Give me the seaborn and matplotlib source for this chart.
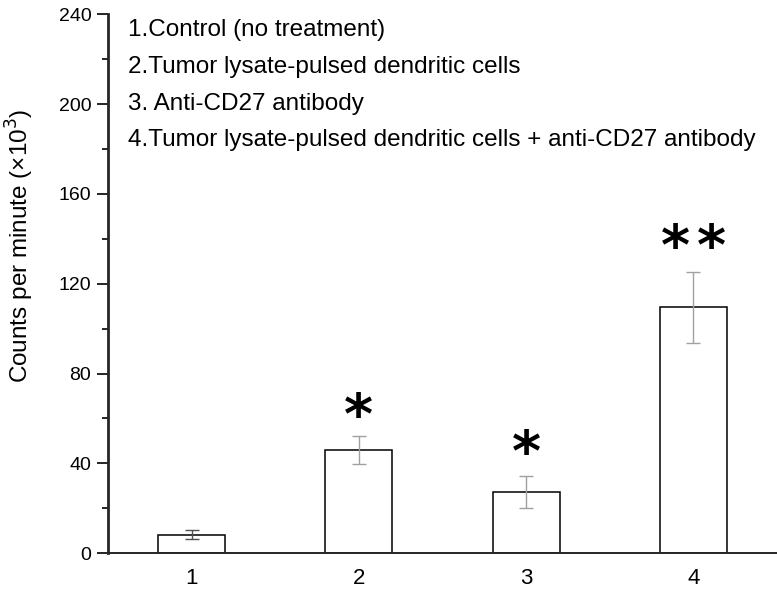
import numpy as np
import pandas as pd
import matplotlib
matplotlib.use("Agg")
import matplotlib.pyplot as plt
import seaborn as sns
from matplotlib.ticker import MultipleLocator

groups = ["1", "2", "3", "4"]
counts = [8.3, 45.9, 27.3, 109.4]
errors = [1.8, 6.4, 7.1, 15.6]
err_colors = ["#505050", "#a0a0a0", "#a0a0a0", "#a0a0a0"]
# (bar index, x offset, y) for each significance asterisk
star_pos = [(1, 0.0, 60), (2, 0.0, 43.5), (3, -0.11, 135.5), (3, 0.11, 135.5)]
legend_lines = [
    "1.Control (no treatment)",
    "2.Tumor lysate-pulsed dendritic cells",
    "3. Anti-CD27 antibody",
    "4.Tumor lysate-pulsed dendritic cells + anti-CD27 antibody",
]

sns.set_style("ticks")
plt.rcParams["font.family"] = ["Liberation Sans", "DejaVu Sans"]
plt.rcParams["text.color"] = "black"
plt.rcParams["xtick.color"] = "black"
plt.rcParams["ytick.color"] = "black"
plt.rcParams["axes.labelcolor"] = "black"

df = pd.DataFrame({"group": groups, "cpm": counts})

fig = plt.figure(figsize=(7.77, 5.91), dpi=100)
ax = fig.add_axes([0.139, 0.064, 0.861, 0.912])

sns.barplot(data=df, x="group", y="cpm", ax=ax, width=0.4, color="white",
            edgecolor="black", linewidth=1.1, errorbar=None)
for i in range(len(groups)):
    ax.errorbar(i, counts[i], yerr=errors[i], fmt="none",
                ecolor=err_colors[i], elinewidth=1.0, capsize=5, capthick=1.0)

for i, dx, y in star_pos:
    ax.text(i + dx, y, "*", ha="center", va="center", fontsize=40,
            fontweight="bold", family="DejaVu Sans")

ax.set_xlim(-0.5, 3.5)
ax.set_ylim(0, 240)
ax.yaxis.set_major_locator(MultipleLocator(40))
ax.yaxis.set_minor_locator(MultipleLocator(20))
ax.tick_params(axis="y", which="major", length=8, width=1.2, labelsize=14, pad=4)
ax.tick_params(axis="y", which="minor", length=4, width=1.2)
ax.tick_params(axis="x", length=0, labelsize=16, pad=11)
ax.set_xlabel("")
ax.set_ylabel("Counts per minute (×10$^3$)", fontsize=17.5)
ax.yaxis.set_label_coords(-0.108, 0.571)

sns.despine(ax=ax)
ax.spines["left"].set_linewidth(2.0)
ax.spines["bottom"].set_linewidth(1.4)

for k, line in enumerate(legend_lines):
    ax.text(0.03, 0.97 - k * 0.068, line, transform=ax.transAxes,
            fontsize=17.5, va="center", ha="left")

fig.savefig("out.png", dpi=100)
